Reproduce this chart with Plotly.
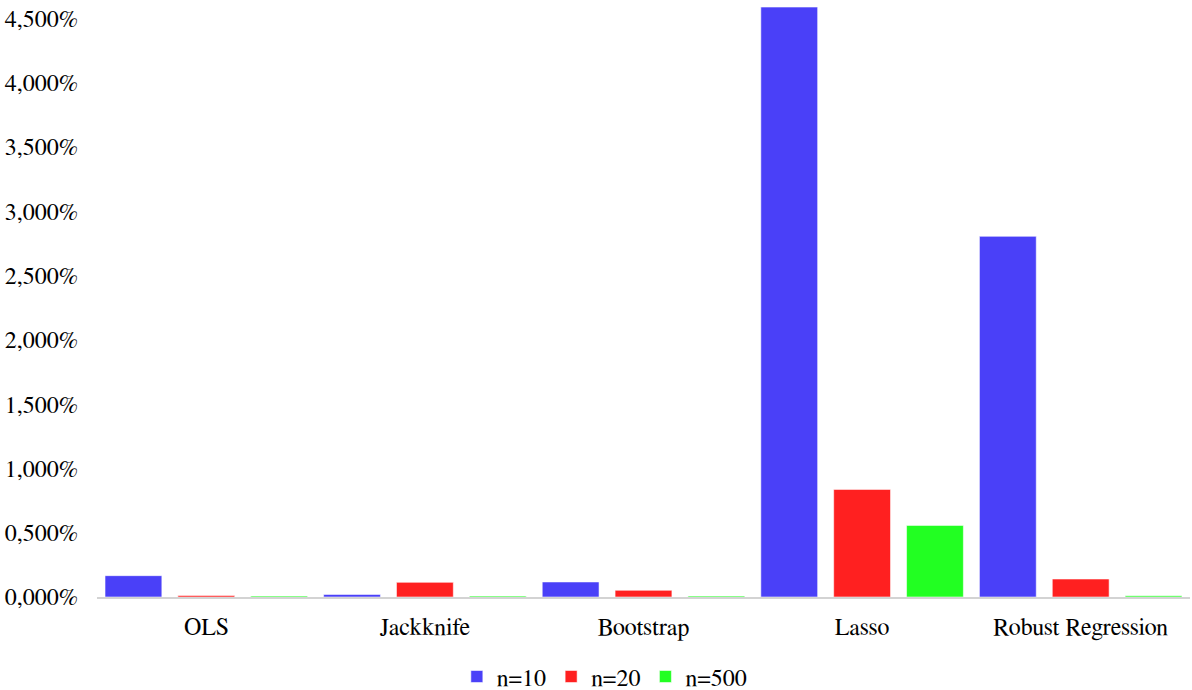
import plotly.graph_objects as go

# Relative error by estimation method and sample size (percent)
methods = ["OLS", "Jackknife", "Bootstrap", "Lasso", "Robust Regression"]
n10 = [0.166, 0.020, 0.117, 4.588, 2.805]
n20 = [0.012, 0.114, 0.052, 0.837, 0.140]
n500 = [0.008, 0.008, 0.008, 0.557, 0.010]

# y-axis ticks (percent) and their labels, decimal comma
y_ticks = [0, 0.5, 1.0, 1.5, 2.0, 2.5, 3.0, 3.5, 4.0, 4.5]
y_labels = ["0,000%", "0,500%", "1,000%", "1,500%", "2,000%",
            "2,500%", "3,000%", "3,500%", "4,000%", "4,500%"]

series = [
    ("n=10", n10, "#4a40f8"),
    ("n=20", n20, "#ff2020"),
    ("n=500", n500, "#22ff22"),
]

font_family = "FreeSerif"
font_size = 24

fig = go.Figure()
for name, vals, color in series:
    fig.add_trace(go.Bar(
        name=name,
        x=methods,
        y=vals,
        marker=dict(color=color, line=dict(color="rgba(255,255,255,0.55)", width=1)),
    ))

fig.update_layout(
    width=1192,
    height=690,
    margin=dict(l=97, r=2, t=5, b=93, autoexpand=False),
    paper_bgcolor="white",
    plot_bgcolor="white",
    barmode="group",
    bargap=0.0,
    bargroupgap=0.22,
    font=dict(family=font_family, size=font_size, color="black"),
    showlegend=True,
    legend=dict(
        orientation="h",
        x=0.507,
        xanchor="center",
        xref="container",
        y=0.019,
        yanchor="middle",
        yref="container",
        font=dict(family=font_family, size=font_size, color="black"),
        itemwidth=30,
    ),
    xaxis=dict(
        showline=True,
        linecolor="#d3d3d3",
        linewidth=2,
        showgrid=False,
        ticks="",
        ticklabelstandoff=7,
        tickfont=dict(family=font_family, size=font_size, color="black"),
    ),
    yaxis=dict(
        range=[0, 4.604],
        tickmode="array",
        tickvals=y_ticks,
        ticktext=y_labels,
        showgrid=False,
        zeroline=False,
        showline=False,
        ticks="",
        ticklabelstandoff=18,
        tickfont=dict(family=font_family, size=font_size, color="black"),
    ),
)

fig.write_html("out.html")
